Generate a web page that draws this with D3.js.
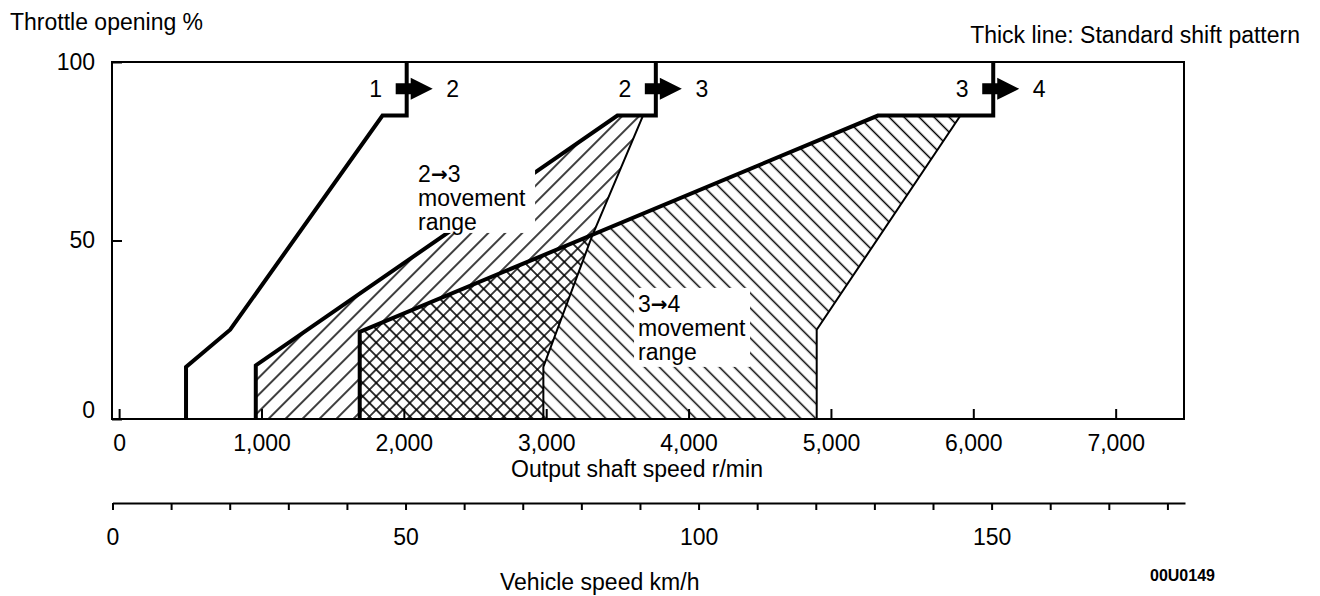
<!DOCTYPE html>
<html>
<head>
<meta charset="utf-8">
<script src="https://cdn.jsdelivr.net/npm/d3@7"></script>
<style>
  body { margin: 0; background: #fff; }
  svg { display: block; font-family: "Liberation Sans", Arial, sans-serif; }
  .axis text { font-size: 23px; fill: #000; font-family: "Liberation Sans", Arial, sans-serif; }
  .axis line, .axis path { stroke: #000; stroke-width: 2; }
  .lbl { font-size: 23px; fill: #000; }
  .arr { font-family: "DejaVu Sans", sans-serif; font-size: 20px; font-weight: bold; }
</style>
</head>
<body>
<div class="chart"></div>
<script>
// Shift diagram: output shaft speed (r/min) vs throttle opening (%)

// standard shift pattern (thick lines)
var shift12 = [[470, 0], [470, 14.6], [780, 25], [1850, 85], [2020, 85], [2020, 100]]
var shift23 = [[960, 0], [960, 15], [3500, 85], [3770, 85], [3770, 100]]
var shift34 = [[1690, 0], [1690, 24.4], [5330, 85], [6140, 85], [6140, 100]]

// movement ranges (hatched areas)
var range23 = [[960, 0], [960, 15], [3500, 85], [3680, 85], [3320, 51], [2980, 14.6], [2980, 0]]
var range34 = [[1690, 0], [1690, 24.4], [5330, 85], [5910, 85], [4900, 25], [4900, 0]]

// thin outer edges of the ranges
var edge23 = [[3680, 85], [3320, 51], [2980, 14.6], [2980, 0]]
var edge34 = [[5910, 85], [4900, 25], [4900, 0]]

// shift arrows at top
var gearFrom = ['1', '2', '3']
var gearTo = ['2', '3', '4']
var shiftAt = [2020, 3770, 6140]
var arrowLevel = 92.5

// labels of the ranges: [rpm, throttle] of first line
var range23Label = ['2\u21923', 'movement', 'range']
var range23Pos = [2100, 66.4]
var range34Label = ['3\u21924', 'movement', 'range']
var range34Pos = [3645, 30]

// axes
var rpmTicks = [0, 1000, 2000, 3000, 4000, 5000, 6000, 7000]
var throttleTicks = [0, 50, 100]
var kmhTicks = [0, 10, 20, 30, 40, 50, 60, 70, 80, 90, 100, 110, 120, 130, 140, 150, 160, 170, 180]
var kmhLabels = [0, 50, 100, 150]

var width = 1320
var height = 596

var svg = d3.select('.chart')
  .append('svg')
  .attr('width', width)
  .attr('height', height)

var x = d3.scaleLinear().domain([-50, 7480]).range([112, 1184])
var y = d3.scaleLinear().domain([0, 100]).range([419, 62])
var xKmh = d3.scaleLinear().domain([0, 183]).range([112.5, 1185])

var line = d3.line().x(d => x(d[0])).y(d => y(d[1]))

// hatch patterns
var defs = svg.append('defs')
function hatch(id, angle, gap, cross) {
  var p = defs.append('pattern')
    .attr('id', id)
    .attr('patternUnits', 'userSpaceOnUse')
    .attr('width', gap)
    .attr('height', gap)
    .attr('patternTransform', 'rotate(' + angle + ')')
  p.append('line')
    .attr('x1', gap / 2).attr('y1', 0).attr('x2', gap / 2).attr('y2', gap)
    .attr('stroke', '#000').attr('stroke-width', 1.5)
  if (cross) {
    p.append('line')
      .attr('x1', 0).attr('y1', gap / 2).attr('x2', gap).attr('y2', gap / 2)
      .attr('stroke', '#000').attr('stroke-width', 1.6)
  }
}
hatch('fwd', 45, 12, false)
hatch('back', -45, 10.6, false)
hatch('cross', 45, 9.5, true)

defs.append('clipPath').attr('id', 'clip34')
  .append('path').attr('d', line(range34) + 'Z')

// hatched ranges
svg.append('path').attr('d', line(range23) + 'Z').attr('fill', 'url(#fwd)')
svg.append('path').attr('d', line(range34) + 'Z').attr('fill', 'url(#back)')
var overlap = svg.append('g').attr('clip-path', 'url(#clip34)')
overlap.append('path').attr('d', line(range23) + 'Z').attr('fill', '#fff')
overlap.append('path').attr('d', line(range23) + 'Z').attr('fill', 'url(#cross)')

// thin edges
;[edge23, edge34].forEach(function(e) {
  svg.append('path').attr('d', line(e))
    .attr('fill', 'none').attr('stroke', '#000').attr('stroke-width', 2)
})

// thick standard lines
;[shift12, shift23, shift34].forEach(function(s) {
  svg.append('path').attr('d', line(s))
    .attr('fill', 'none').attr('stroke', '#000').attr('stroke-width', 4)
    .attr('stroke-linejoin', 'miter')
})

// frame
svg.append('rect')
  .attr('x', x(-50)).attr('y', y(100))
  .attr('width', x(7480) - x(-50)).attr('height', y(0) - y(100))
  .attr('fill', 'none').attr('stroke', '#000').attr('stroke-width', 2)

// range labels with white boxes behind
function rangeLabel(lines, pos, padL, padR, padT, padB) {
  var g = svg.append('g')
  var box = g.append('rect').attr('fill', '#fff')
  var t = g.append('text').attr('class', 'lbl')
  lines.forEach(function(s, i) {
    var ts = t.append('tspan').attr('x', x(pos[0])).attr('y', y(pos[1]) + i * 24)
    var parts = s.split('\u2192')
    if (parts.length === 2) {
      ts.text(parts[0])
      t.append('tspan').attr('class', 'arr').attr('dy', -1).text('\u2192')
      t.append('tspan').attr('dy', 1).text(parts[1])
    } else {
      ts.text(s)
    }
  })
  var bb = t.node().getBBox()
  box.attr('x', bb.x - padL).attr('y', bb.y - padT)
    .attr('width', bb.width + padL + padR).attr('height', bb.height + padT + padB)
}
rangeLabel(range23Label, range23Pos, 8, 9, 12, -2)
rangeLabel(range34Label, range34Pos, 4, 4, 3, 2)

// shift arrows
shiftAt.forEach(function(r, i) {
  var g = svg.append('g')
    .attr('transform', 'translate(' + x(r) + ',' + y(arrowLevel) + ')')
  g.append('path')
    .attr('d', 'M-11,-5.5H4V-11L26,0L4,11V5.5H-11Z')
    .attr('fill', '#000')
  g.append('text').attr('class', 'lbl').attr('x', -31).attr('dy', '0.35em')
    .attr('text-anchor', 'middle').text(gearFrom[i])
  g.append('text').attr('class', 'lbl').attr('x', 46).attr('dy', '0.35em')
    .attr('text-anchor', 'middle').text(gearTo[i])
})

// Y-axis
var yAxis = svg.append('g')
  .attr('class', 'axis')
  .attr('transform', 'translate(' + x(-50) + ',0)')
  .call(d3.axisLeft(y).tickValues(throttleTicks).tickSizeInner(-10).tickSizeOuter(0).tickPadding(17))
yAxis.select('.domain').remove()
yAxis.selectAll('.tick text').attr('dy', d => d === 0 ? '-0.05em' : '0.32em')

// X-axis (output shaft speed)
var xAxis = svg.append('g')
  .attr('class', 'axis')
  .attr('transform', 'translate(0,' + y(0) + ')')
  .call(d3.axisBottom(x).tickValues(rpmTicks).tickSizeInner(-10).tickSizeOuter(0)
    .tickPadding(16).tickFormat(d3.format(',')))
xAxis.select('.domain').remove()

// vehicle speed axis
svg.append('g')
  .attr('class', 'axis')
  .attr('transform', 'translate(0,503)')
  .call(d3.axisBottom(xKmh).tickValues(kmhTicks).tickSizeInner(7).tickSizeOuter(0)
    .tickPadding(19).tickFormat(d => kmhLabels.indexOf(d) >= 0 ? d : ''))

// titles
svg.append('text').attr('class', 'lbl').attr('x', 10).attr('y', 30).text('Throttle opening %')
svg.append('text').attr('class', 'lbl').attr('x', 1300).attr('y', 43)
  .attr('text-anchor', 'end').text('Thick line: Standard shift pattern')
svg.append('text').attr('class', 'lbl').attr('x', 637).attr('y', 477)
  .attr('text-anchor', 'middle').text('Output shaft speed r/min')
svg.append('text').attr('class', 'lbl').attr('x', 500).attr('y', 590).text('Vehicle speed km/h')
svg.append('text').attr('x', 1150).attr('y', 581)
  .style('font-size', '16px').style('font-weight', 'bold').text('00U0149')
</script>
</body>
</html>
